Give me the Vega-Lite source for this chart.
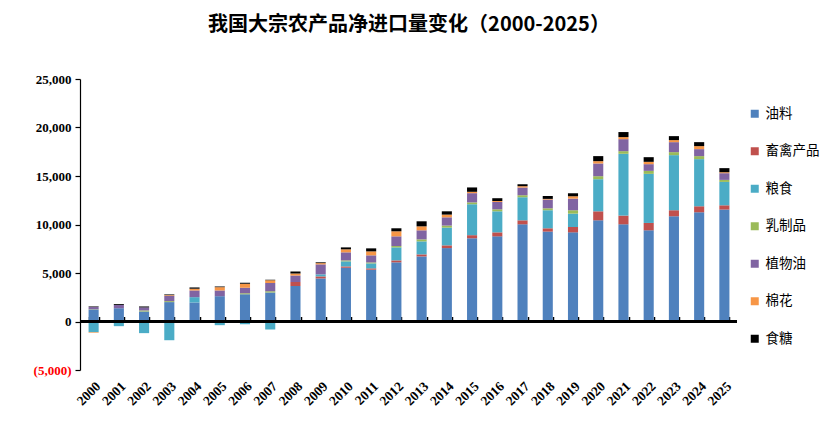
{
  "$schema": "https://vega.github.io/schema/vega-lite/v6.json",
  "width": 656,
  "height": 291,
  "autosize": {"type": "none"},
  "padding": {"left": 81, "top": 79, "right": 94, "bottom": 53},
  "background": "white",
  "view": {"stroke": "white"},
  "title": {"text": "我国大宗农产品净进口量变化（2000-2025）", "font": "Noto Sans CJK SC", "fontSize": 20, "fontWeight": "bold", "anchor": "middle", "offset": 38, "color": "black"},
  "datasets": {
    "wide": [
      {"year": "2000", "油料": 1240, "畜禽产品": 0, "粮食": -1100, "乳制品": 30, "植物油": 220, "棉花": -60, "食糖": 60},
      {"year": "2001", "油料": 1370, "畜禽产品": 0, "粮食": -480, "乳制品": 0, "植物油": 330, "棉花": 0, "食糖": 90},
      {"year": "2002", "油料": 1030, "畜禽产品": 0, "粮食": -1200, "乳制品": 110, "植物油": 310, "棉花": 0, "食糖": 100},
      {"year": "2003", "油料": 2000, "畜禽产品": 0, "粮食": -1930, "乳制品": 100, "植物油": 550, "棉花": 70, "食糖": 70},
      {"year": "2004", "油料": 1960, "畜禽产品": 0, "粮食": 550, "乳制品": 0, "植物油": 690, "棉花": 180, "食糖": 130},
      {"year": "2005", "油料": 2610, "畜禽产品": 0, "粮食": -380, "乳制品": 0, "植物油": 590, "棉花": 340, "食糖": 70},
      {"year": "2006", "油料": 2820, "畜禽产品": 0, "粮食": -280, "乳制品": 80, "植物油": 580, "棉花": 420, "食糖": 100},
      {"year": "2007", "油料": 3000, "畜禽产品": 0, "粮食": -830, "乳制品": 120, "植物油": 840, "棉花": 280, "食糖": 70},
      {"year": "2008", "油料": 3670, "畜禽产品": 390, "粮食": 0, "乳制品": 0, "植物油": 690, "棉花": 210, "食糖": 200},
      {"year": "2009", "油料": 4440, "畜禽产品": 210, "粮食": 210, "乳制品": 0, "植物油": 1030, "棉花": 130, "食糖": 80},
      {"year": "2010", "油料": 5540, "畜禽产品": 140, "粮食": 520, "乳制品": 100, "植物油": 830, "棉花": 310, "食糖": 200},
      {"year": "2011", "油料": 5340, "畜禽产品": 140, "粮食": 510, "乳制品": 100, "植物油": 730, "棉花": 410, "食糖": 310},
      {"year": "2012", "油料": 6100, "畜禽产品": 200, "粮食": 1340, "乳制品": 140, "植物油": 1000, "棉花": 520, "食糖": 310},
      {"year": "2013", "油料": 6710, "畜禽产品": 210, "粮食": 1340, "乳制品": 210, "植物油": 930, "棉花": 410, "食糖": 520},
      {"year": "2014", "油料": 7570, "畜禽产品": 280, "粮食": 1830, "乳制品": 210, "植物油": 850, "棉花": 280, "食糖": 340},
      {"year": "2015", "油料": 8580, "畜禽产品": 320, "粮食": 3190, "乳制品": 190, "植物油": 950, "棉花": 140, "食糖": 450},
      {"year": "2016", "油料": 8780, "畜禽产品": 410, "粮食": 2170, "乳制品": 210, "植物油": 750, "棉花": 100, "食糖": 290},
      {"year": "2017", "油料": 10020, "畜禽产品": 410, "粮食": 2380, "乳制品": 210, "植物油": 790, "棉花": 140, "食糖": 200},
      {"year": "2018", "油料": 9270, "畜禽产品": 340, "粮食": 1860, "乳制品": 200, "植物油": 900, "棉花": 70, "食糖": 300},
      {"year": "2019", "油料": 9190, "畜禽产品": 550, "粮食": 1380, "乳制品": 350, "植物油": 1200, "棉花": 240, "食糖": 310},
      {"year": "2020", "油料": 10430, "畜禽产品": 930, "粮食": 3310, "乳制品": 310, "植物油": 1310, "棉花": 240, "食糖": 520},
      {"year": "2021", "油料": 10020, "畜禽产品": 900, "粮食": 6370, "乳制品": 270, "植物油": 1240, "棉花": 210, "食糖": 520},
      {"year": "2022", "油料": 9400, "畜禽产品": 760, "粮食": 5060, "乳制品": 310, "植物油": 690, "棉花": 240, "食糖": 480},
      {"year": "2023", "油料": 10850, "畜禽产品": 620, "粮食": 5680, "乳制品": 310, "植物油": 1030, "棉花": 210, "食糖": 410},
      {"year": "2024", "油料": 11260, "畜禽产品": 620, "粮食": 4860, "乳制品": 310, "植物油": 720, "棉花": 310, "食糖": 410},
      {"year": "2025", "油料": 11540, "畜禽产品": 440, "粮食": 2410, "乳制品": 210, "植物油": 690, "棉花": 100, "食糖": 420}
    ],
    "types": [
      {"type": "油料", "idx": 0},
      {"type": "畜禽产品", "idx": 1},
      {"type": "粮食", "idx": 2},
      {"type": "乳制品", "idx": 3},
      {"type": "植物油", "idx": 4},
      {"type": "棉花", "idx": 5},
      {"type": "食糖", "idx": 6}
    ]
  },
  "data": {"name": "wide"},
  "transform": [
    {"fold": ["油料", "畜禽产品", "粮食", "乳制品", "植物油", "棉花", "食糖"], "as": ["type", "value"]},
    {"lookup": "type", "from": {"data": {"name": "types"}, "key": "type", "fields": ["idx"]}}
  ],
  "layer": [
    {
      "mark": {"type": "bar"},
      "encoding": {
        "x": {
          "field": "year", "type": "nominal",
          "scale": {"paddingInner": 0.6, "paddingOuter": 0.3},
          "axis": {"orient": "bottom", "title": null, "domain": false, "ticks": false, "grid": false, "labelAngle": -45, "labelFont": "Liberation Serif", "labelFontWeight": "bold", "labelFontSize": 13.5, "labelColor": "black", "labelPadding": 9}
        },
        "y": {
          "field": "value", "type": "quantitative", "stack": "zero",
          "scale": {"domain": [-5000, 25000], "nice": false},
          "axis": {
            "title": null, "grid": false, "values": [-5000, 0, 5000, 10000, 15000, 20000, 25000], "offset": 1,
            "domain": true, "ticks": true, "domainColor": "black", "domainWidth": 1.2, "tickColor": "black", "tickSize": 5, "tickWidth": 1.2,
            "labelFont": "Liberation Serif", "labelFontWeight": "bold", "labelFontSize": 13, "labelPadding": 4,
            "labelExpr": "datum.value < 0 ? '(' + format(-datum.value, ',') + ')' : format(datum.value, ',')",
            "labelColor": {"condition": {"test": "datum.value < 0", "value": "#FF0000"}, "value": "black"}
          }
        },
        "color": {
          "field": "type", "type": "nominal",
          "scale": {"domain": ["油料", "畜禽产品", "粮食", "乳制品", "植物油", "棉花", "食糖"], "range": ["#4F81BD", "#C0504D", "#4BACC6", "#9BBB59", "#8064A2", "#F79646", "#000000"]},
          "legend": {"title": null, "orient": "none", "legendX": 667, "legendY": 28, "symbolType": "square", "symbolSize": 64, "symbolStrokeWidth": 0, "labelFont": "Noto Sans CJK SC", "labelFontSize": 13.5, "labelColor": "black", "rowPadding": 22.5, "labelOffset": 4}
        },
        "order": {"field": "idx", "type": "quantitative"}
      }
    },
    {
      "mark": {"type": "rule", "color": "black", "strokeWidth": 1.3},
      "encoding": {
        "y": {"datum": 0, "type": "quantitative"}
      }
    },
    {
      "mark": {"type": "bar", "opacity": 0},
      "encoding": {
        "x": {
          "field": "year", "type": "nominal",
          "axis": {"orient": "top", "title": null, "labels": false, "domain": false, "ticks": true, "tickColor": "black", "tickWidth": 1.5, "tickBand": "extent", "tickSize": 5, "offset": -242.5, "grid": false}
        },
        "y": {"datum": 0, "type": "quantitative"}
      }
    }
  ],
  "resolve": {"axis": {"x": "independent"}}
}
